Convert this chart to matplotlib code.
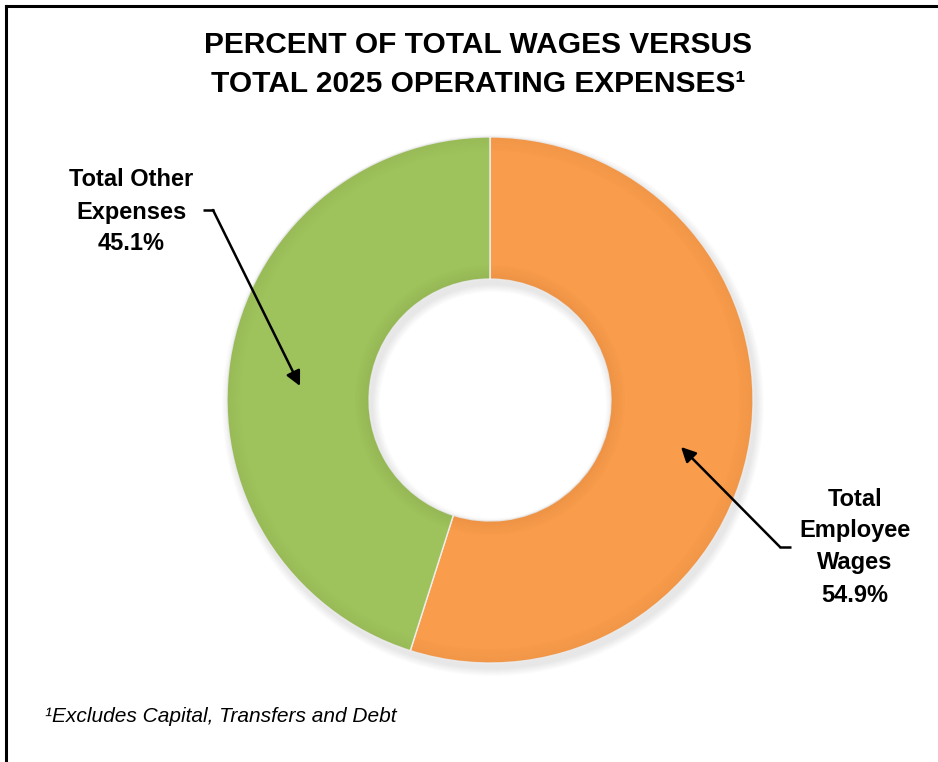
import matplotlib
matplotlib.use("Agg")
import matplotlib.pyplot as plt
from matplotlib.patches import Wedge
from matplotlib.lines import Line2D

# Wages vs. other operating expenses, 2025
labels = ["Total\nEmployee\nWages", "Total Other\nExpenses"]
shares = [54.9, 45.1]
colors = ["#F99D4C", "#9FC35C"]
shade = ["#A9561A", "#56702A"]

W, H = 938, 762
fig = plt.figure(figsize=(W / 100, H / 100), dpi=100)
ax = fig.add_axes([0, 0, 1, 1])

cx, cy = 490, H - 400
r_out, r_in = 263, 121

# soft drop shadow under the ring
for k in range(8):
    ax.add_patch(Wedge((cx + 3, cy - 5), r_out + 8 - k, 0, 360, width=r_out - r_in + 16 - 2 * k,
                       color="#000000", alpha=0.012, lw=0))

wedges, _ = ax.pie(shares, colors=colors, radius=r_out, center=(cx, cy), startangle=90,
                   counterclock=False, frame=True,
                   wedgeprops=dict(width=r_out - r_in, edgecolor="#eeeeee", linewidth=1.0))
ax.set_xlim(0, W)
ax.set_ylim(0, H)
ax.set_aspect("equal")
ax.axis("off")

# bevel: darker bands along inner and outer rims of each wedge
for w, dark in zip(wedges, shade):
    t1, t2 = w.theta1, w.theta2
    for k in range(7):
        a = 0.13 - 0.017 * k
        ax.add_patch(Wedge((cx, cy), r_in + 2 + 2 * k, t1 + 0.5, t2 - 0.5, width=2,
                           color=dark, alpha=a, lw=0))
        ax.add_patch(Wedge((cx, cy), r_out - 2 * k, t1 + 0.3, t2 - 0.3, width=2,
                           color=dark, alpha=a * 0.7, lw=0))

sans = ["Liberation Sans", "DejaVu Sans"]
ax.text(478, H - 45, "PERCENT OF TOTAL WAGES VERSUS", ha="center", va="center",
        fontsize=21.5, fontweight="bold", family=sans)
ax.text(478, H - 84, "TOTAL 2025 OPERATING EXPENSES\u00b9", ha="center", va="center",
        fontsize=21.5, fontweight="bold", family=sans)

ax.text(131, H - 212, f"{labels[1]}\n{shares[1]:.1f}%", ha="center", va="center",
        fontsize=17, fontweight="bold", family=sans, linespacing=1.5)
ax.text(855, H - 547, f"{labels[0]}\n{shares[0]:.1f}%", ha="center", va="center",
        fontsize=17, fontweight="bold", family=sans, linespacing=1.5)

# elbow leader arrows
ax.plot([203, 214], [H - 210, H - 210], color="black", lw=1.8, solid_capstyle="butt")
ax.annotate("", xy=(300, H - 386), xytext=(213, H - 210),
            arrowprops=dict(arrowstyle="-|>", color="black", lw=1.8, mutation_scale=22,
                            shrinkA=0, shrinkB=0))
ax.plot([791, 779], [H - 547, H - 547], color="black", lw=1.8, solid_capstyle="butt")
ax.annotate("", xy=(681, H - 447), xytext=(780, H - 547),
            arrowprops=dict(arrowstyle="-|>", color="black", lw=1.8, mutation_scale=22,
                            shrinkA=0, shrinkB=0))

ax.text(45, H - 717, "\u00b9Excludes Capital, Transfers and Debt", ha="left", va="center",
        fontsize=15, fontstyle="italic", family=sans)

# frame lines along top and left
fig.add_artist(Line2D([6 / W, 1], [1 - 6 / H, 1 - 6 / H], color="black", lw=2.2))
fig.add_artist(Line2D([6 / W, 6 / W], [0, 1 - 6 / H], color="black", lw=2.2))

fig.savefig("out.png", dpi=100, facecolor="white")
